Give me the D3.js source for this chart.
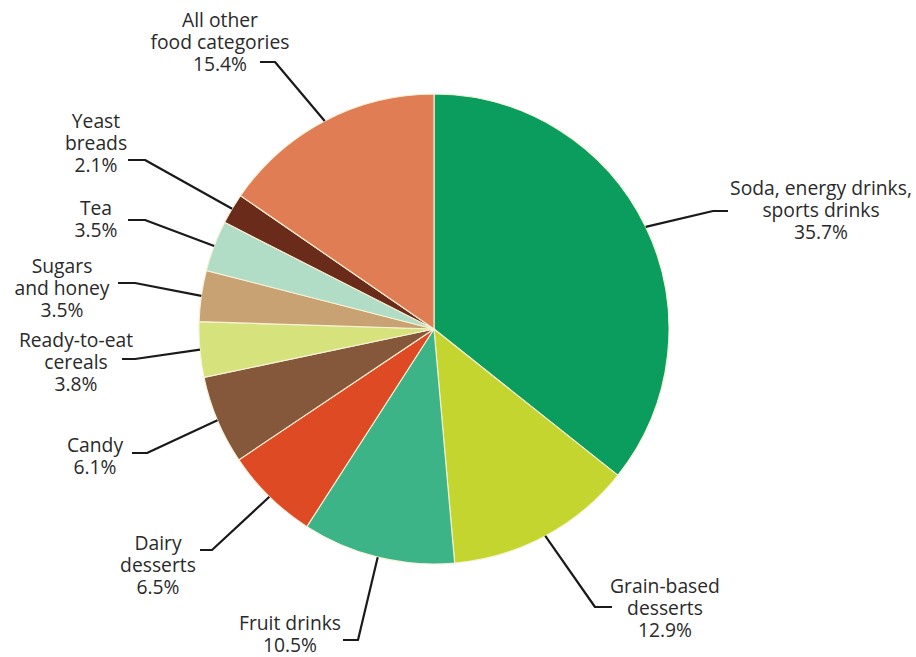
<!DOCTYPE html>
<html><head><meta charset="utf-8">
<script src="https://cdn.jsdelivr.net/npm/d3@7/dist/d3.min.js"></script>
<style>body{margin:0;background:#fff}svg{display:block}</style>
</head><body>
<script>
// Data
const categories = ["Soda, energy drinks, sports drinks","Grain-based desserts","Fruit drinks","Dairy desserts","Candy","Ready-to-eat cereals","Sugars and honey","Tea","Yeast breads","All other food categories"];
const values = [35.7, 12.9, 10.5, 6.5, 6.1, 3.8, 3.5, 3.5, 2.1, 15.4];
const labelLines = [
  ["Soda, energy drinks,","sports drinks"],
  ["Grain-based","desserts"],
  ["Fruit drinks"],
  ["Dairy","desserts"],
  ["Candy"],
  ["Ready-to-eat","cereals"],
  ["Sugars","and honey"],
  ["Tea"],
  ["Yeast","breads"],
  ["All other","food categories"]
];
const colors = ["#0b9d5d","#c4d52f","#3db487","#dd4a24","#86583b","#d6e27b","#c9a274","#b1dcc5","#6b2b1b","#e07d55"];

// Layout (label anchors and leader elbows)
const layout = [
  {tx:821, ty:195, ex:713, ey:211, hx:728},
  {tx:665, ty:593, ex:595, ey:607, hx:612},
  {tx:290, ty:630, ex:358, ey:640, hx:343},
  {tx:158, ty:550, ex:212, ey:550, hx:200},
  {tx:95,  ty:452, ex:147, ey:453, hx:132},
  {tx:76,  ty:347, ex:135, ey:359, hx:122},
  {tx:62,  ty:273, ex:135, ey:283, hx:118},
  {tx:96,  ty:215, ex:145, ey:220, hx:128},
  {tx:96,  ty:128, ex:145, ey:160, hx:128},
  {tx:220, ty:27,  ex:275, ey:62,  hx:260}
];

const W = 916, H = 657, cx = 434, cy = 329, R = 235, lh = 22.2;
const svg = d3.select("body").append("svg").attr("width", W).attr("height", H);
const g = svg.append("g").attr("transform", `translate(${cx},${cy})`);

const pie = d3.pie().sort(null).value(d => d)(values);
const arc = d3.arc().innerRadius(0).outerRadius(R);

g.selectAll("path.slice").data(pie).join("path")
  .attr("class","slice")
  .attr("d", arc)
  .attr("fill", (d,i) => colors[i])
  .attr("stroke", "#f6f2d6")
  .attr("stroke-width", 1.1);

// leader lines and labels
pie.forEach((d,i) => {
  const a = (d.startAngle + d.endAngle)/2;
  const px = cx + R*Math.sin(a), py = cy - R*Math.cos(a);
  const L = layout[i];
  svg.append("polyline")
    .attr("points", `${px},${py} ${L.ex},${L.ey} ${L.hx},${L.ey}`)
    .attr("fill","none").attr("stroke","#1a1a1a").attr("stroke-width",2.2)
    .attr("stroke-linejoin","round");
  const t = svg.append("text")
    .attr("text-anchor","middle")
    .attr("font-family","'Open Sans', sans-serif")
    .attr("font-size", 19.3)
    .attr("fill","#2a2a2a");
  const lines = labelLines[i].concat([values[i].toFixed(1) + "%"]);
  lines.forEach((s,k) => {
    t.append("tspan").attr("x", L.tx).attr("y", L.ty + k*lh).text(s);
  });
});
</script>
</body></html>
